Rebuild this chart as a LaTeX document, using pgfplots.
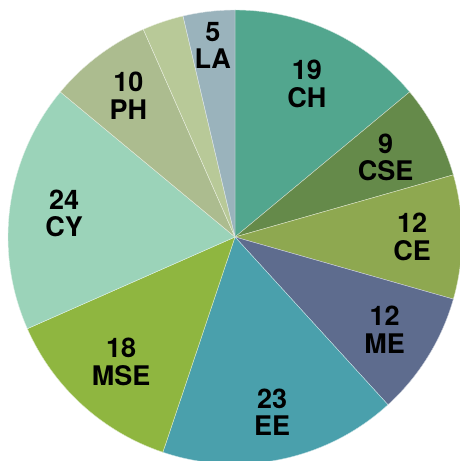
\documentclass[border=0pt]{standalone}
\usepackage{fontspec}
\setmainfont{TeX Gyre Heros}
\usepackage{pgfplots}
\usepackage{pgfplotstable}
\pgfplotsset{compat=1.18}
\definecolor{cCH}{HTML}{52A68E}
\definecolor{cCSE}{HTML}{658A4A}
\definecolor{cCE}{HTML}{8EA850}
\definecolor{cME}{HTML}{5E6C8E}
\definecolor{cEE}{HTML}{4AA0AC}
\definecolor{cMSE}{HTML}{8FB640}
\definecolor{cCY}{HTML}{9BD3B9}
\definecolor{cPH}{HTML}{ACBC8F}
\definecolor{cOT}{HTML}{B8C998}
\definecolor{cLA}{HTML}{9AB3BC}
\pgfplotstableread{
val show rad col name
19 1 0.745 cCH CH
9 1 0.75 cCSE CSE
12 1 0.78 cCE CE
12 1 0.775 cME ME
23 1 0.79 cEE EE
18 1 0.745 cMSE MSE
24 1 0.76 cCY CY
10 1 0.78 cPH PH
4 0 0.8 cOT none
5 1 0.85 cLA LA
}\piedata
\begin{document}
\begin{tikzpicture}[lbl/.style={font=\fontsize{27}{27.5}\selectfont\bfseries, align=center, text=black, inner sep=0pt}]
\useasboundingbox (-8pt,3pt) rectangle (451pt,464pt);
\begin{axis}[hide axis, x=227pt, y=227pt, xmin=-1, xmax=1, ymin=-1, ymax=1,
  at={(0pt,0pt)}, anchor=south west, clip=false]
\pgfplotstablegetrowsof{\piedata}
\pgfmathtruncatemacro\pLast{\pgfplotsretval-1}
\def\pTot{0}
\pgfplotsforeachungrouped \i in {0,...,\pLast}{%
  \pgfplotstablegetelem{\i}{val}\of\piedata
  \pgfmathsetmacro\pTot{\pTot+\pgfplotsretval}%
}
\def\pCum{0}
\pgfplotsforeachungrouped \i in {0,...,\pLast}{%
  \pgfplotstablegetelem{\i}{val}\of\piedata \let\pV\pgfplotsretval
  \pgfplotstablegetelem{\i}{show}\of\piedata \let\pS\pgfplotsretval
  \pgfplotstablegetelem{\i}{rad}\of\piedata \let\pR\pgfplotsretval
  \pgfplotstablegetelem{\i}{col}\of\piedata \let\pC\pgfplotsretval
  \pgfplotstablegetelem{\i}{name}\of\piedata \let\pN\pgfplotsretval
  \pgfmathsetmacro\pFa{\pCum/\pTot}%
  \pgfmathsetmacro\pFb{(\pCum+\pV)/\pTot}%
  \pgfmathsetmacro\pA{90-360*\pFa}%
  \pgfmathsetmacro\pB{90-360*\pFb}%
  \pgfmathsetmacro\pM{(\pA+\pB)/2}%
  \pgfmathsetmacro\pAx{cos(\pA)}%
  \pgfmathsetmacro\pAy{sin(\pA)}%
  \pgfmathsetmacro\pLx{\pR*cos(\pM)}%
  \pgfmathsetmacro\pLy{\pR*sin(\pM)}%
  \edef\pTemp{\noexpand\fill[\pC, draw=white!70!\pC, line width=0.4pt] (axis cs:0,0) -- (axis cs:\pAx,\pAy) arc[start angle=\pA, end angle=\pB, radius=227pt] -- cycle;}%
  \pTemp
  \ifnum\pS=1
    \edef\pTemp{\noexpand\node[lbl] at (axis cs:\pLx,\pLy) {\pV\noexpand\\\pN};}%
    \pTemp
  \fi
  \pgfmathsetmacro\pCum{\pCum+\pV}%
}
\end{axis}
\end{tikzpicture}
\end{document}
